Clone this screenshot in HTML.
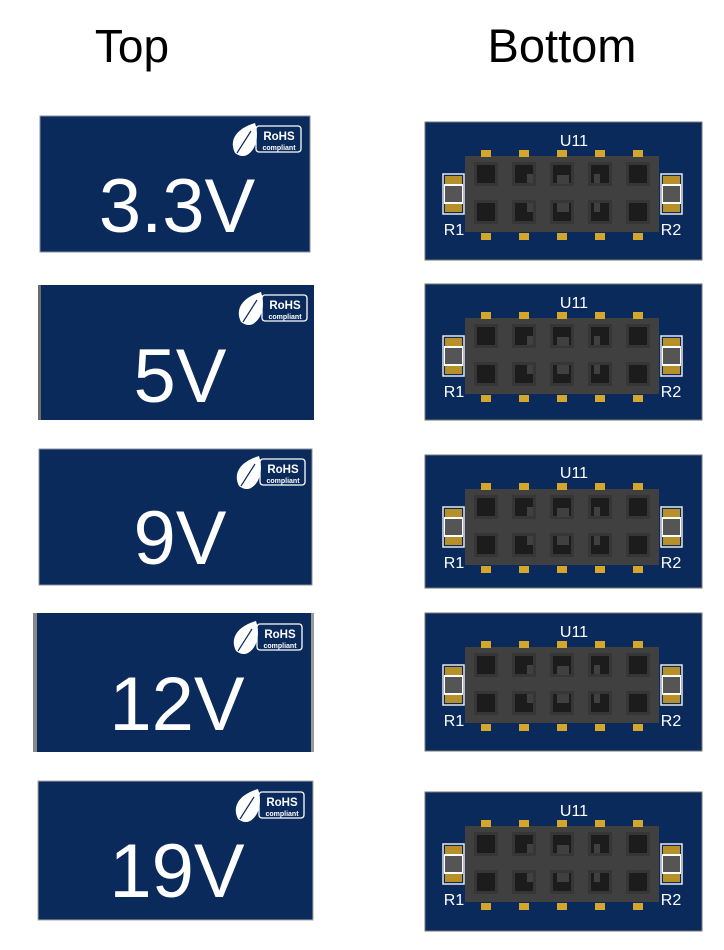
<!DOCTYPE html>
<html><head><meta charset="utf-8"><style>
html,body{margin:0;padding:0;background:#fff;}
svg{display:block;}
</style></head><body>
<svg width="724" height="950" viewBox="0 0 724 950" xmlns="http://www.w3.org/2000/svg" font-family="Liberation Sans, Arial, sans-serif">
<defs>
<g id="cell">
 <rect x="-12" y="-12" width="24" height="24" fill="#363636"/>
 <rect x="-9" y="-9" width="18" height="18" fill="#1c1c1c"/>
</g>
<g id="pad"><rect x="-5" y="-3" width="10" height="7" fill="#d4a72c"/></g>
<g id="res">
 <rect x="0" y="0" width="21" height="40" fill="none" stroke="#e8e8e8" stroke-width="1.5"/>
 <rect x="2" y="2" width="17" height="36" fill="#b8902a"/>
 <rect x="1" y="10" width="19" height="20" fill="#fff"/>
 <rect x="2" y="12" width="17" height="16" fill="#555"/>
</g>
<g id="bb">
 <rect x="40" y="34" width="194" height="76" fill="#404040"/>
 <use href="#pad" x="61" y="31"/><use href="#pad" x="99" y="31"/><use href="#pad" x="137" y="31"/><use href="#pad" x="175" y="31"/><use href="#pad" x="213" y="31"/>
 <use href="#pad" x="61" y="114"/><use href="#pad" x="99" y="114"/><use href="#pad" x="137" y="114"/><use href="#pad" x="175" y="114"/><use href="#pad" x="213" y="114"/>
 <use href="#cell" x="61" y="52"/><use href="#cell" x="99" y="52"/><use href="#cell" x="137" y="52"/><use href="#cell" x="175" y="52"/><use href="#cell" x="213" y="52"/>
 <use href="#cell" x="61" y="90"/><use href="#cell" x="99" y="90"/><use href="#cell" x="137" y="90"/><use href="#cell" x="175" y="90"/><use href="#cell" x="213" y="90"/>
 <rect x="102" y="52" width="6" height="9" fill="#404040"/>
 <rect x="132" y="53" width="12" height="9" fill="#404040"/>
 <rect x="169" y="52" width="6" height="9" fill="#404040"/>
 <rect x="102" y="81" width="6" height="9" fill="#404040"/>
 <rect x="132" y="81" width="12" height="9" fill="#404040"/>
 <rect x="169" y="81" width="6" height="9" fill="#404040"/>
 <use href="#res" x="18" y="52"/>
 <use href="#res" x="236" y="52"/>
</g>
<g id="badge">
 <path d="M2 30 C-4 18 2 6 22 0 C26 12 24 26 14 32 C10 34 6 33 2 30 Z" fill="#fff"/>
 <path d="M4 30 L18 8" stroke="#0b2a5c" stroke-width="1.2" fill="none"/>
 <rect x="23" y="3" width="45" height="26" rx="3" fill="none" stroke="#fff" stroke-width="1.3"/>
</g>
</defs>

<text x="132" y="62" font-size="46" text-anchor="middle" fill="#000">Top</text>
<text x="562" y="62" font-size="47" text-anchor="middle" fill="#000">Bottom</text>

<g>
 <rect x="40" y="116" width="270" height="136" fill="#0b2a5c" stroke="#8a8f99" stroke-width="1"/>
 <use href="#badge" x="233" y="123"/>
 <text x="279" y="140" font-size="11.5" font-weight="bold" fill="#fff" text-anchor="middle">RoHS</text>
 <text x="279" y="150" font-size="7" font-weight="bold" fill="#fff" text-anchor="middle">compliant</text>
 <text x="177" y="232" font-size="76" fill="#fff" text-anchor="middle">3.3V</text>
</g>
<g>
 <rect x="38" y="285" width="276" height="135" fill="#0b2a5c"/>
 <rect x="38" y="285" width="3" height="135" fill="#6b6b6b"/>
 <use href="#badge" x="239" y="292"/>
 <text x="285" y="309" font-size="11.5" font-weight="bold" fill="#fff" text-anchor="middle">RoHS</text>
 <text x="285" y="319" font-size="7" font-weight="bold" fill="#fff" text-anchor="middle">compliant</text>
 <text x="180" y="402" font-size="76" fill="#fff" text-anchor="middle">5V</text>
</g>
<g>
 <rect x="39" y="449" width="273" height="136" fill="#0b2a5c" stroke="#8a8f99" stroke-width="1"/>
 <use href="#badge" x="237" y="456"/>
 <text x="283" y="473" font-size="11.5" font-weight="bold" fill="#fff" text-anchor="middle">RoHS</text>
 <text x="283" y="483" font-size="7" font-weight="bold" fill="#fff" text-anchor="middle">compliant</text>
 <text x="180" y="564" font-size="76" fill="#fff" text-anchor="middle">9V</text>
</g>
<g>
 <rect x="33" y="613" width="281" height="139" fill="#0b2a5c"/>
 <rect x="33" y="613" width="4" height="139" fill="#888"/>
 <rect x="311" y="613" width="3" height="139" fill="#999"/>
 <use href="#badge" x="234" y="621"/>
 <text x="280" y="638" font-size="11.5" font-weight="bold" fill="#fff" text-anchor="middle">RoHS</text>
 <text x="280" y="648" font-size="7" font-weight="bold" fill="#fff" text-anchor="middle">compliant</text>
 <text x="177" y="730" font-size="76" fill="#fff" text-anchor="middle">12V</text>
</g>
<g>
 <rect x="38" y="781" width="275" height="139" fill="#0b2a5c" stroke="#aaa" stroke-width="1"/>
 <use href="#badge" x="236" y="789"/>
 <text x="282" y="806" font-size="11.5" font-weight="bold" fill="#fff" text-anchor="middle">RoHS</text>
 <text x="282" y="816" font-size="7" font-weight="bold" fill="#fff" text-anchor="middle">compliant</text>
 <text x="177" y="897" font-size="76" fill="#fff" text-anchor="middle">19V</text>
</g>

<g transform="translate(425,122)">
 <rect x="0" y="0" width="277" height="138" fill="#0b2a5c" stroke="#777" stroke-width="1"/>
 <use href="#bb"/>
 <text x="149" y="24" font-size="16" fill="#fff" text-anchor="middle">U11</text>
 <text x="29" y="113" font-size="16" fill="#fff" text-anchor="middle">R1</text>
 <text x="246" y="113" font-size="16" fill="#fff" text-anchor="middle">R2</text>
</g>
<g transform="translate(425,284)">
 <rect x="0" y="0" width="277" height="136" fill="#0b2a5c" stroke="#777" stroke-width="1"/>
 <use href="#bb"/>
 <text x="149" y="24" font-size="16" fill="#fff" text-anchor="middle">U11</text>
 <text x="29" y="113" font-size="16" fill="#fff" text-anchor="middle">R1</text>
 <text x="246" y="113" font-size="16" fill="#fff" text-anchor="middle">R2</text>
</g>
<g transform="translate(425,455)">
 <rect x="0" y="0" width="277" height="133" fill="#0b2a5c" stroke="#777" stroke-width="1"/>
 <use href="#bb"/>
 <text x="149" y="23" font-size="16" fill="#fff" text-anchor="middle">U11</text>
 <text x="29" y="113" font-size="16" fill="#fff" text-anchor="middle">R1</text>
 <text x="246" y="113" font-size="16" fill="#fff" text-anchor="middle">R2</text>
</g>
<g transform="translate(425,613)">
 <rect x="0" y="0" width="277" height="138" fill="#0b2a5c" stroke="#777" stroke-width="1"/>
 <use href="#bb"/>
 <text x="149" y="24" font-size="16" fill="#fff" text-anchor="middle">U11</text>
 <text x="29" y="113" font-size="16" fill="#fff" text-anchor="middle">R1</text>
 <text x="246" y="113" font-size="16" fill="#fff" text-anchor="middle">R2</text>
</g>
<g transform="translate(425,792)">
 <rect x="0" y="0" width="277" height="139" fill="#0b2a5c" stroke="#777" stroke-width="1"/>
 <use href="#bb"/>
 <text x="149" y="24" font-size="16" fill="#fff" text-anchor="middle">U11</text>
 <text x="29" y="113" font-size="16" fill="#fff" text-anchor="middle">R1</text>
 <text x="246" y="113" font-size="16" fill="#fff" text-anchor="middle">R2</text>
</g>
</svg>
</body></html>
